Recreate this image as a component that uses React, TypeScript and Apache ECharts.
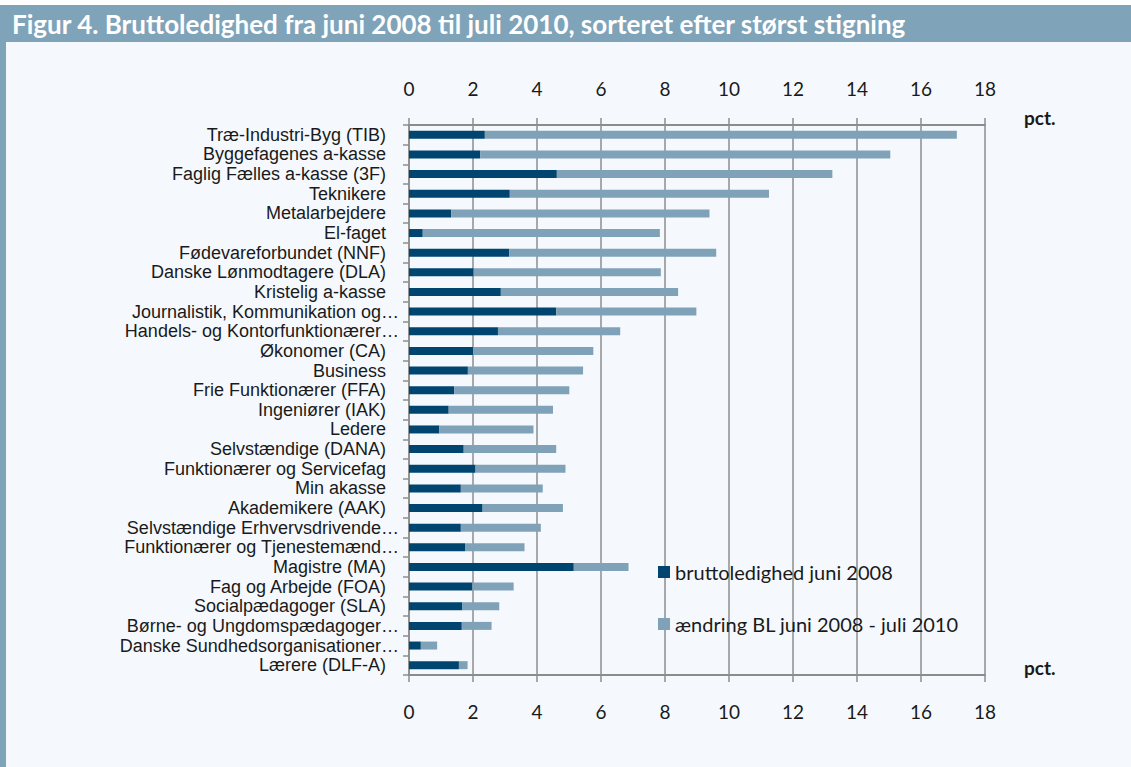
import React, { useEffect, useRef } from "react";
import * as echarts from "echarts";

const titleText =
  "Figur 4. Bruttoledighed fra juni 2008 til juli 2010, sorteret efter størst stigning";

const categories = [
  "Træ-Industri-Byg (TIB)",
  "Byggefagenes a-kasse",
  "Faglig Fælles a-kasse (3F)",
  "Teknikere",
  "Metalarbejdere",
  "El-faget",
  "Fødevareforbundet (NNF)",
  "Danske Lønmodtagere (DLA)",
  "Kristelig a-kasse",
  "Journalistik, Kommunikation og…",
  "Handels- og Kontorfunktionærer…",
  "Økonomer (CA)",
  "Business",
  "Frie Funktionærer (FFA)",
  "Ingeniører (IAK)",
  "Ledere",
  "Selvstændige (DANA)",
  "Funktionærer og Servicefag",
  "Min akasse",
  "Akademikere (AAK)",
  "Selvstændige Erhvervsdrivende…",
  "Funktionærer og Tjenestemænd…",
  "Magistre (MA)",
  "Fag og Arbejde (FOA)",
  "Socialpædagoger (SLA)",
  "Børne- og Ungdomspædagoger…",
  "Danske Sundhedsorganisationer…",
  "Lærere (DLF-A)",
];

const baseJune2008 = [
  2.37, 2.23, 4.62, 3.15, 1.32, 0.43, 3.13, 2.02, 2.87, 4.6, 2.78, 2.0, 1.84,
  1.41, 1.24, 0.95, 1.71, 2.08, 1.62, 2.3, 1.62, 1.75, 5.15, 1.98, 1.67, 1.65,
  0.37, 1.56,
];

const changeJune2008July2010 = [
  14.75, 12.81, 8.61, 8.1, 8.07, 7.41, 6.47, 5.85, 5.54, 4.38, 3.82, 3.76, 3.6,
  3.6, 3.26, 2.94, 2.89, 2.81, 2.56, 2.51, 2.5, 1.86, 1.71, 1.29, 1.15, 0.93,
  0.51, 0.27,
];

const seriesNames = ["bruttoledighed juni 2008", "ændring BL juni 2008 - juli 2010"];
const axisMin = 0;
const axisMax = 18;
const axisInterval = 2;
const unitLabel = "pct.";

const FONT = "Lato, 'Noto Sans', sans-serif";
const LABEL_FONT = "'Liberation Sans', Arial, sans-serif";
const DARK = "#004570";
const LIGHT = "#7fa2b8";
const GRID = "#8c8c8c";
const TEXT = "#1a1a1a";

export default function App() {
  const ref = useRef<HTMLDivElement>(null);

  useEffect(() => {
    if (!ref.current) return;
    const chart = echarts.init(ref.current, null, { renderer: "svg" });

    const xAxisCommon = {
      type: "value" as const,
      min: axisMin,
      max: axisMax,
      interval: axisInterval,
      axisLine: { show: true, lineStyle: { color: GRID, width: 2 } },
      axisTick: { show: true, length: 7, lineStyle: { color: GRID, width: 1.5 } },
      axisLabel: { fontFamily: FONT, fontSize: 19, color: TEXT, margin: 27 },
    };

    chart.setOption({
      animation: false,
      backgroundColor: "#f5f9fd",
      textStyle: { fontFamily: FONT },
      grid: { left: 409, right: 146, top: 125, bottom: 92, containLabel: false },
      xAxis: [
        {
          ...xAxisCommon,
          position: "top",
          splitLine: { show: true, lineStyle: { color: GRID, width: 1.5 } },
        },
        {
          ...xAxisCommon,
          position: "bottom",
          splitLine: { show: false },
        },
      ],
      yAxis: {
        type: "category",
        inverse: true,
        data: categories,
        axisLine: { show: true, lineStyle: { color: GRID, width: 1.5 } },
        axisTick: { show: true, length: 6, alignWithLabel: false, lineStyle: { color: GRID, width: 1.5 } },
        axisLabel: {
          interval: 0,
          margin: 10,
          hideOverlap: false,
          formatter: (v: string) => (v.endsWith("…") ? `{t|${v}}` : `{n|${v}}`),
          rich: {
            n: { fontFamily: LABEL_FONT, fontSize: 18, color: TEXT, padding: [0, 13, 0, 0], lineHeight: 18 },
            t: { fontFamily: LABEL_FONT, fontSize: 18, color: TEXT, lineHeight: 18 },
          },
        },
      },
      legend: {
        orient: "vertical",
        left: 658,
        top: 562,
        padding: 0,
        itemWidth: 12,
        itemHeight: 12,
        itemGap: 32,
        icon: "rect",
        textStyle: { fontFamily: FONT, fontSize: 20, color: TEXT },
        data: seriesNames,
      },
      graphic: [
        { type: "rect", shape: { x: 0, y: 0, width: 1131, height: 5 }, style: { fill: "#ffffff" }, silent: true },
        { type: "rect", shape: { x: 0, y: 5, width: 1131, height: 37 }, style: { fill: "#7fa3b8" }, silent: true },
        { type: "rect", shape: { x: 0, y: 42, width: 6, height: 725 }, style: { fill: "#7fa3b8" }, silent: true },
        {
          type: "text",
          x: 12,
          y: 24,
          style: {
            text: titleText,
            fill: "#ffffff",
            font: `bold 26px ${FONT}`,
            textVerticalAlign: "middle",
          },
          silent: true,
        },
        {
          type: "text",
          x: 1024,
          y: 117,
          style: { text: unitLabel, fill: TEXT, font: `bold 19px ${FONT}`, textVerticalAlign: "middle" },
          silent: true,
        },
        {
          type: "text",
          x: 1024,
          y: 667,
          style: { text: unitLabel, fill: TEXT, font: `bold 19px ${FONT}`, textVerticalAlign: "middle" },
          silent: true,
        },
      ],
      series: [
        {
          name: seriesNames[0],
          type: "bar",
          stack: "total",
          xAxisIndex: 0,
          barWidth: 8,
          itemStyle: { color: DARK },
          data: baseJune2008,
        },
        {
          name: seriesNames[1],
          type: "bar",
          stack: "total",
          xAxisIndex: 0,
          barWidth: 8,
          itemStyle: { color: LIGHT },
          data: changeJune2008July2010,
        },
      ],
    });

    return () => chart.dispose();
  }, []);

  return (
    <div
      ref={ref}
      style={{ position: "fixed", left: 0, top: 0, width: 1131, height: 767 }}
    />
  );
}
